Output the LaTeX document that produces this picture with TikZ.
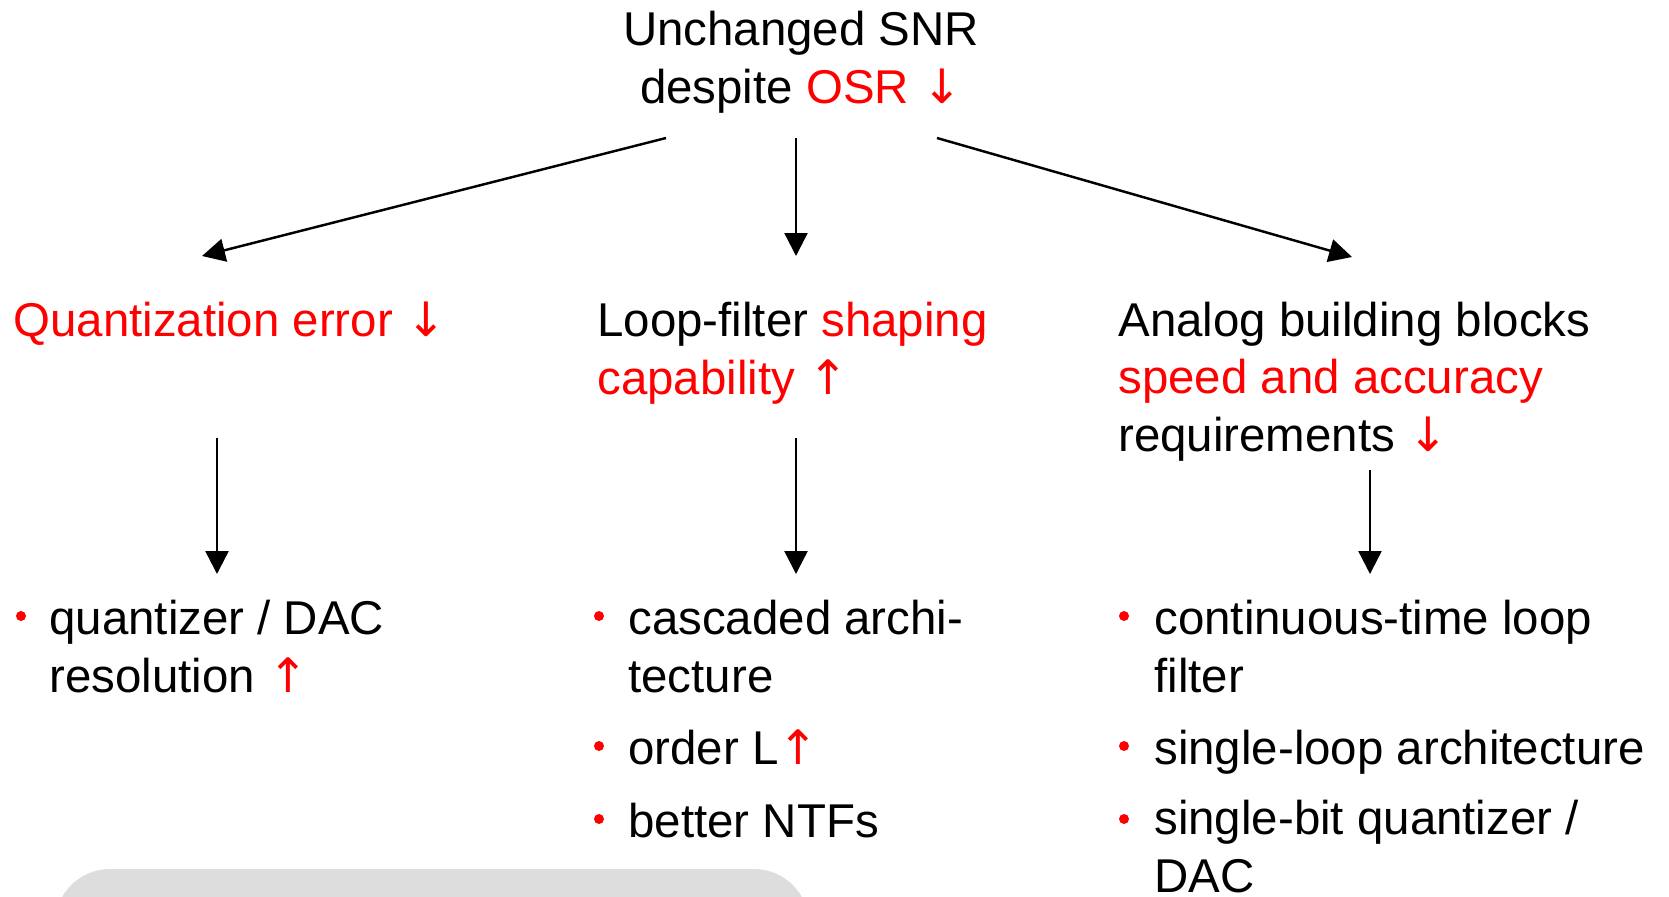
\documentclass[tikz,border=0pt]{standalone}
\usepackage{fontspec}
\setmainfont{Liberation Sans}
\newfontfamily\arrowfont{DejaVu Sans}
\usetikzlibrary{arrows.meta}
\newcommand{\bigtxt}{\fontsize{27}{32.7}\selectfont}
\newcommand{\hl}[1]{\textcolor{red}{#1}}
\newcommand{\arrdn}{\hl{{\arrowfont ↓}}}
\newcommand{\arrup}{\hl{{\arrowfont ↑}}}
\definecolor{boxgray}{RGB}{221,221,221}

\begin{document}
\begin{tikzpicture}[x=0.02cm,y=-0.02cm,
  txt/.style={inner sep=0pt,anchor=base west,align=left,font=\bigtxt},
  arr/.style={-{Triangle[length=0.46cm,width=0.46cm]},line width=1.4pt}]
\useasboundingbox (0,0) rectangle (1669,896);

% top (nodes sit on the baseline of their last line)
\node[txt,anchor=base,align=center] (snr) at (801,103) {Unchanged SNR\\despite \hl{OSR} \arrdn};

% second row
\node[txt] (qe) at (13,336) {\hl{Quantization error} \arrdn};
\node[txt] (lf) at (597,394) {Loop-filter \hl{shaping}\\\hl{capability} \arrup};
\node[txt] (ab) at (1118,451) {Analog building blocks\\\hl{speed and accuracy}\\requirements \arrdn};

% third row
\node[txt] (qdac) at (49,692) {quantizer / DAC\\resolution \arrup};
\node[txt] (casc) at (628,692) {cascaded archi-\\tecture};
\node[txt] (ord) at (628,764) {order L\arrup};
\node[txt] (ntf) at (628,837) {better NTFs};
\node[txt] (ct) at (1154,692) {continuous-time loop\\filter};
\node[txt] (sl) at (1154,764) {single-loop architecture};
\node[txt] (sb) at (1154,892) {single-bit quantizer /\\DAC};

% bullets
\foreach \bx/\by in {21/616,599/616,599/746,599/819,1124/616,1124/746,1124/819}
  \fill[red] (\bx,\by) circle (5);

% arrows
\coordinate (snr-l) at (666,138);
\coordinate (snr-m) at (796,138);
\coordinate (snr-r) at (937,138);
\coordinate (qe-in) at (202,256);
\coordinate (lf-in) at (796,256);
\coordinate (ab-in) at (1352,257);
\draw[arr] (snr-l) -- (qe-in);
\draw[arr] (snr-m) -- (lf-in);
\draw[arr] (snr-r) -- (ab-in);

\coordinate (qe-out) at (217,438);
\coordinate (lf-out) at (796,438);
\coordinate (ab-out) at (1370,470);
\coordinate (qdac-in) at (217,574);
\coordinate (casc-in) at (796,574);
\coordinate (ct-in) at (1370,574);
\draw[arr] (qe-out) -- (qdac-in);
\draw[arr] (lf-out) -- (casc-in);
\draw[arr] (ab-out) -- (ct-in);

% gray box, cut off at the bottom
\begin{scope}
\clip (0,0) rectangle (1669,896);
\fill[boxgray,rounded corners=1.1cm] (55,869) rectangle (809,1000);
\end{scope}
\end{tikzpicture}
\end{document}
